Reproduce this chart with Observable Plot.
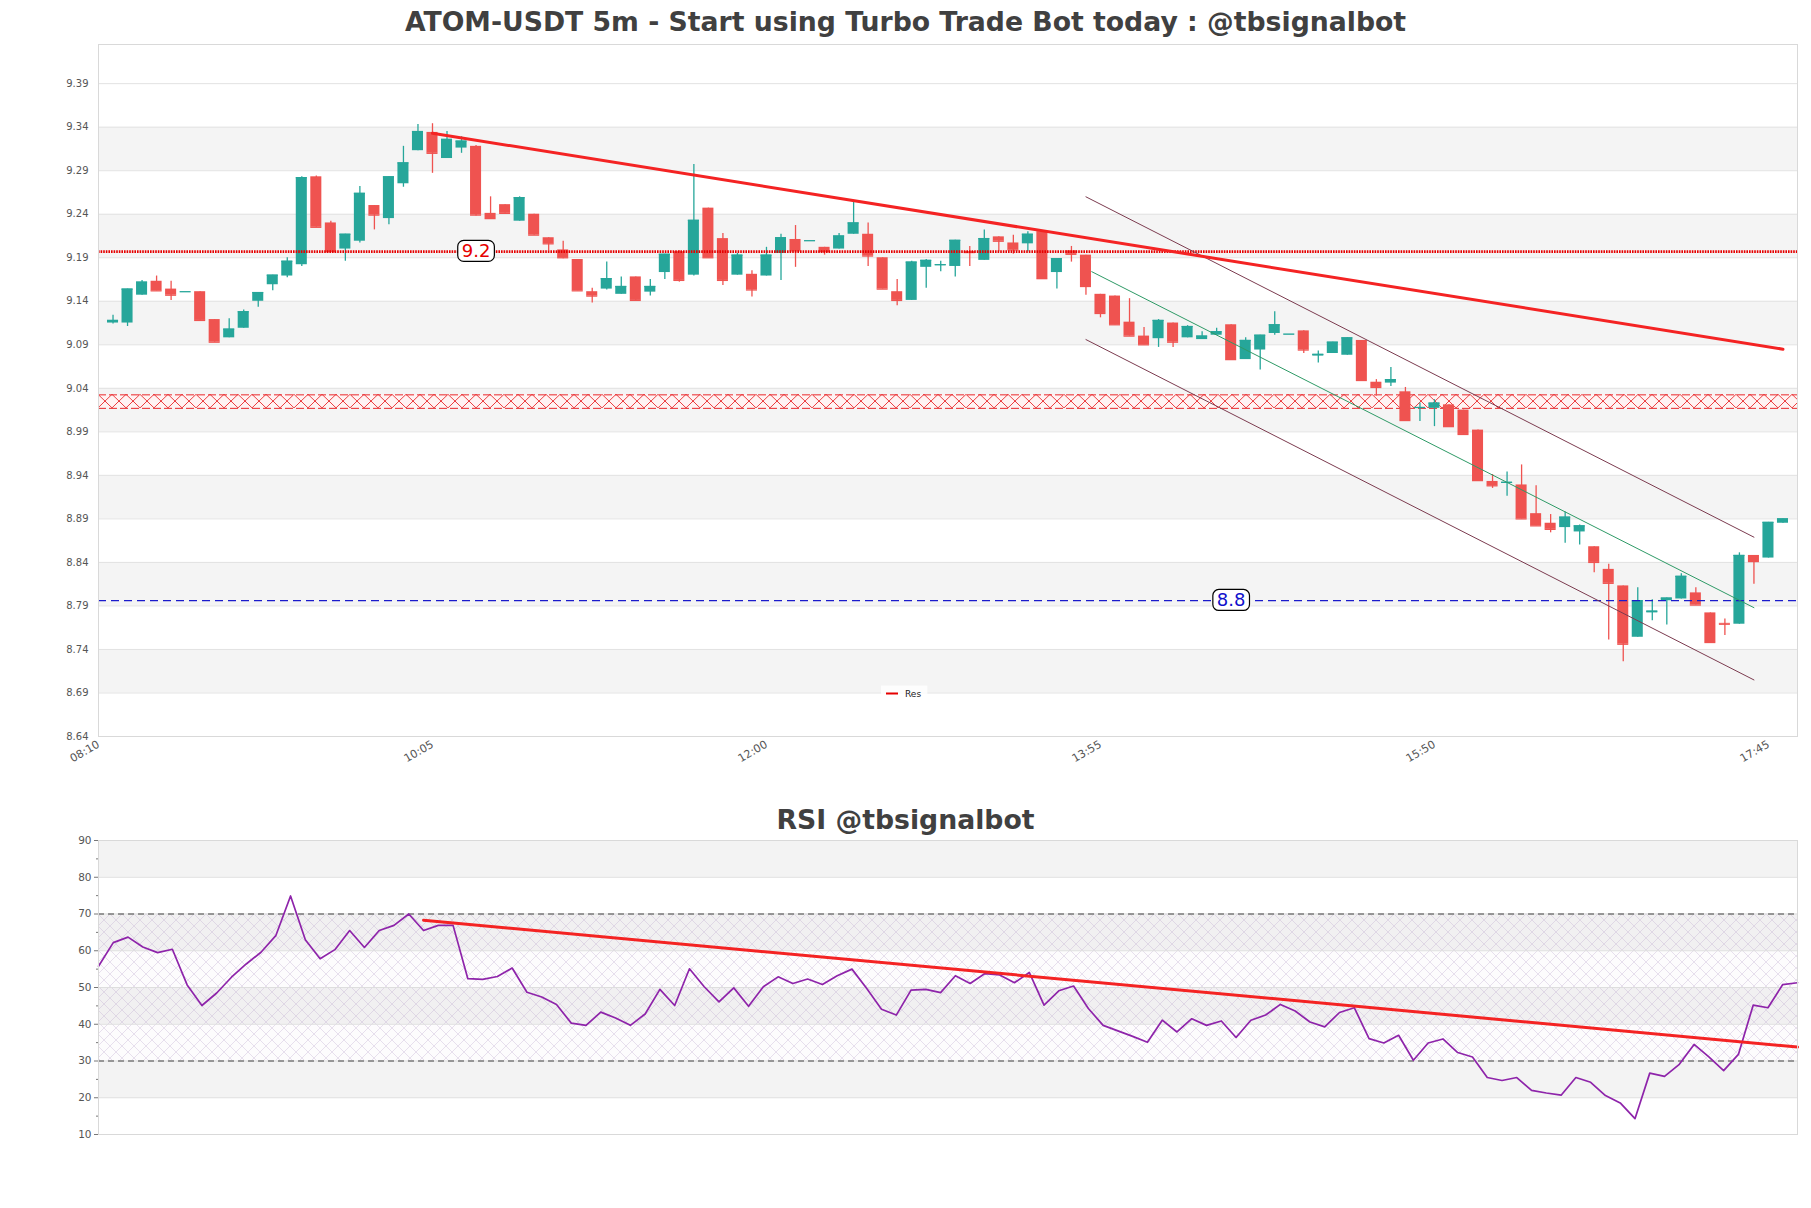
<!DOCTYPE html>
<html><head><meta charset="utf-8">
<script src="https://cdn.jsdelivr.net/npm/d3@7"></script>
<script src="https://cdn.jsdelivr.net/npm/@observablehq/plot@0.6"></script>
<style>
body{margin:0;background:#fff;font-family:"DejaVu Sans",sans-serif;width:1811px;height:1208px;overflow:hidden}
.title{text-align:center;font-weight:bold;color:#404040;font-size:26.7px;white-space:nowrap}
</style></head><body>
<div class="title" style="height:40px;line-height:44px">ATOM-USDT 5m - Start using Turbo Trade Bot today : @tbsignalbot</div>
<div id="c1" style="height:760px"></div>
<div class="title" style="height:30px;line-height:40px">RSI @tbsignalbot</div>
<div id="c2"></div>
<script>
// ---------- data ----------
const candleOpen  = [9.115,9.115,9.147,9.163,9.154,9.151,9.151,9.119,9.098,9.109,9.140,9.159,9.169,9.182,9.283,9.230,9.200,9.209,9.250,9.235,9.275,9.313,9.334,9.304,9.316,9.318,9.241,9.251,9.232,9.240,9.213,9.199,9.188,9.151,9.154,9.148,9.168,9.1505,9.173,9.197,9.170,9.247,9.212,9.170,9.171,9.169,9.195,9.211,9.2095,9.202,9.200,9.217,9.217,9.190,9.151,9.141,9.179,9.181,9.180,9.197,9.187,9.214,9.207,9.206,9.220,9.173,9.198,9.193,9.148,9.146,9.116,9.100,9.097,9.115,9.098,9.096,9.101,9.113,9.073,9.084,9.103,9.102,9.106,9.077,9.080,9.078,9.095,9.047,9.046,9.036,9.017,9.017,9.021,9.015,8.992,8.933,8.931,8.929,8.896,8.885,8.880,8.875,8.858,8.832,8.813,8.754,8.782,8.796,8.798,8.805,8.782,8.770,8.769,8.848,8.845,8.885];
const candleHigh  = [9.124,9.154,9.164,9.169,9.163,9.151,9.151,9.119,9.120,9.130,9.150,9.170,9.190,9.283,9.284,9.232,9.217,9.272,9.250,9.283,9.318,9.343,9.344,9.335,9.329,9.319,9.260,9.251,9.260,9.240,9.213,9.209,9.188,9.155,9.185,9.168,9.168,9.165,9.194,9.198,9.297,9.247,9.218,9.195,9.175,9.202,9.217,9.227,9.2095,9.202,9.218,9.255,9.230,9.190,9.165,9.186,9.188,9.186,9.210,9.203,9.222,9.214,9.216,9.220,9.220,9.189,9.203,9.193,9.148,9.146,9.143,9.110,9.119,9.115,9.112,9.105,9.109,9.113,9.098,9.101,9.128,9.102,9.106,9.083,9.093,9.098,9.095,9.050,9.064,9.041,9.023,9.027,9.021,9.015,8.992,8.941,8.944,8.952,8.928,8.895,8.898,8.883,8.858,8.838,8.813,8.811,8.797,8.799,8.827,8.811,8.782,8.775,8.851,8.848,8.886,8.890];
const candleLow   = [9.114,9.111,9.147,9.152,9.141,9.151,9.118,9.093,9.098,9.109,9.133,9.152,9.167,9.180,9.225,9.197,9.186,9.207,9.222,9.228,9.271,9.313,9.287,9.304,9.310,9.238,9.234,9.241,9.232,9.216,9.198,9.189,9.152,9.138,9.153,9.148,9.140,9.146,9.165,9.162,9.169,9.190,9.158,9.170,9.145,9.169,9.164,9.179,9.2095,9.193,9.200,9.217,9.180,9.154,9.135,9.141,9.155,9.174,9.168,9.180,9.187,9.197,9.194,9.197,9.166,9.154,9.185,9.147,9.121,9.113,9.100,9.090,9.087,9.087,9.098,9.096,9.101,9.072,9.073,9.061,9.101,9.102,9.080,9.069,9.080,9.078,9.049,9.031,9.042,9.003,9.002,8.996,8.996,8.987,8.934,8.925,8.916,8.890,8.882,8.874,8.862,8.860,8.828,8.751,8.726,8.754,8.773,8.768,8.798,8.791,8.748,8.756,8.769,8.815,8.845,8.885];
const candleClose = [9.118,9.154,9.162,9.152,9.147,9.151,9.118,9.093,9.108,9.128,9.150,9.170,9.186,9.282,9.225,9.197,9.217,9.264,9.239,9.283,9.299,9.335,9.310,9.326,9.324,9.239,9.235,9.241,9.259,9.216,9.206,9.190,9.152,9.146,9.166,9.157,9.141,9.157,9.194,9.164,9.233,9.190,9.164,9.193,9.153,9.193,9.213,9.198,9.2096,9.197,9.215,9.230,9.192,9.154,9.141,9.185,9.187,9.182,9.210,9.196,9.212,9.209,9.199,9.217,9.166,9.189,9.194,9.157,9.126,9.113,9.100,9.090,9.118,9.093,9.111,9.100,9.105,9.073,9.095,9.101,9.113,9.1022,9.084,9.079,9.093,9.098,9.049,9.041,9.050,9.003,9.018,9.023,8.996,8.987,8.934,8.928,8.932,8.890,8.882,8.878,8.892,8.882,8.840,8.816,8.746,8.796,8.784,8.799,8.824,8.791,8.748,8.769,8.848,8.841,8.886,8.890];

const priceTicks = [8.64,8.69,8.74,8.79,8.84,8.89,8.94,8.99,9.04,9.09,9.14,9.19,9.24,9.29,9.34,9.39];
const timeTickSteps = [0,23,46,69,92,115];
const timeTickLabels = ["08:10","10:05","12:00","13:55","15:50","17:45"];

const resistanceLevel = 9.197, resistanceLabel = "9.2", resistanceLabelStep = 26;
const supportLevel = 8.796, supportLabel = "8.8", supportLabelStep = 78;
const zoneLow = 9.017, zoneHigh = 9.0325;
const resTrendX = [23, 116], resTrendY = [9.333, 9.085];
const channelX = [68, 114];
const channelUpper = [9.260, 8.869];
const channelLower = [9.096, 8.705];
const channelMidX = [68.4, 114];
const channelMid = [9.174, 8.788];
const legendLabel = "Res";

const rsiValues = [55.8,62.2,63.7,61.0,59.5,60.4,50.7,45.1,48.5,52.8,56.4,59.6,64.1,74.9,63.0,57.8,60.3,65.5,60.9,65.5,66.9,70.0,65.5,66.9,66.9,52.4,52.2,53.0,55.3,48.7,47.4,45.4,40.3,39.7,43.3,41.7,39.7,42.8,49.5,45.1,55.1,
 50.2,46.1,49.9,44.9,50.2,52.9,51.1,52.3,50.8,53.2,55.0,49.7,44.1,42.5,49.3,49.5,48.6,53.2,51.1,53.8,53.4,51.3,54.1,45.2,49.1,50.4,44.3,39.7,38.2,36.7,35.1,41.1,37.9,41.5,39.7,40.9,36.4,41.1,42.5,45.4,43.6,40.6,39.3,43.2,44.5,36.1,34.9,37.0,30.2,34.9,36.0,32.3,31.1,25.5,24.7,25.5,22.0,21.3,20.7,25.5,24.2,20.6,18.6,14.3,26.7,25.8,29.1,34.5,31.1,27.4,31.8,45.2,44.5,50.8,51.3];
const rsiTicks = [10,20,30,40,50,60,70,80,90];
const rsiMinorTicks = [15,25,35,45,55,65,75,85];
const rsiUpper = 70, rsiLower = 30;
const rsiTrendX = [22, 115], rsiTrendY = [68.3, 33.8];

// ---------- derived tables ----------
const candles = candleOpen.map((o, i) => ({
  step: i + 1, open: o, high: candleHigh[i], low: candleLow[i], close: candleClose[i],
  up: candleClose[i] >= o
}));
const priceBands = [];
for (let i = 1; i + 1 < priceTicks.length; i += 2) priceBands.push({lo: priceTicks[i], hi: priceTicks[i + 1]});
const rsiBands = [];
for (let i = 1; i + 1 < rsiTicks.length; i += 2) rsiBands.push({lo: rsiTicks[i], hi: rsiTicks[i + 1]});
const rsiPts = rsiValues.map((v, i) => ({i, v}));

const GREEN = "#26a69a", RED = "#ef5350";
const HW = 0.38;

// ---------- price chart ----------
const p1 = Plot.plot({
  width: 1811, height: 760,
  marginLeft: 98, marginRight: 14, marginTop: 4, marginBottom: 64,
  style: {fontFamily: "DejaVu Sans, sans-serif", fontSize: "10px", color: "#555", background: "transparent"},
  x: {domain: [0, 117], axis: null, label: null},
  y: {domain: [8.64, 9.435], axis: null, label: null},
  marks: [
    Plot.rect(priceBands, {y1: "lo", y2: "hi", fill: "#f4f4f4"}),
    Plot.ruleY(priceTicks, {stroke: "#e2e2e2", strokeWidth: 1}),
    Plot.rect([{lo: zoneLow, hi: zoneHigh}], {y1: "lo", y2: "hi", fill: "#fff3f3"}),
    Plot.rect([{lo: zoneLow, hi: zoneHigh}], {y1: "lo", y2: "hi", fill: "url(#hatchRed)"}),
    Plot.ruleY([zoneLow, zoneHigh], {stroke: "#e8282b", strokeWidth: 1, strokeDasharray: "8,3"}),
    Plot.ruleX(candles, {x: "step", y1: "low", y2: "high", stroke: d => d.up ? GREEN : RED, strokeWidth: 1.3}),
    Plot.ruleY(candles, {x1: d => d.step - HW, x2: d => d.step + HW, y: "close", stroke: d => d.up ? GREEN : RED, strokeWidth: 1.3}),
    Plot.rect(candles, {x1: d => d.step - HW, x2: d => d.step + HW, y1: "open", y2: "close", fill: d => d.up ? GREEN : RED}),
    Plot.ruleY([resistanceLevel], {stroke: "#e60000", strokeWidth: 2.8, strokeDasharray: "1.6,1"}),
    Plot.ruleY([supportLevel], {stroke: "#1a1acc", strokeWidth: 1.3, strokeDasharray: "8,5"}),
    Plot.line(channelX, {x: channelX, y: channelUpper, stroke: "#7b3b4f", strokeWidth: 1}),
    Plot.line(channelX, {x: channelX, y: channelLower, stroke: "#7b3b4f", strokeWidth: 1}),
    Plot.line(channelMidX, {x: channelMidX, y: channelMid, stroke: "#2e9a66", strokeWidth: 1}),
    Plot.line(resTrendX, {x: resTrendX, y: resTrendY, stroke: "#f42323", strokeWidth: 3}),
    Plot.text([resistanceLabel], {x: [resistanceLabelStep], y: [resistanceLevel], text: d => d, fill: "#e60000", fontSize: 18, className: "lvl-label"}),
    Plot.text([supportLabel], {x: [supportLabelStep], y: [supportLevel], text: d => d, fill: "#1010cc", fontSize: 18, className: "lvl-label"}),
    Plot.frame({stroke: "#d9d9d9"}),
    Plot.axisY(priceTicks, {tickSize: 0, tickPadding: 10, fontSize: 10, fill: "#555", label: null, tickFormat: d => d.toFixed(2)}),
    Plot.axisX(timeTickSteps, {tickSize: 0, tickPadding: 7, tickRotate: -30, fontSize: 11, fill: "#555", label: null, tickFormat: d => timeTickLabels[timeTickSteps.indexOf(d)]}),
    Plot.text([legendLabel], {frameAnchor: "bottom", dx: -43, dy: -40, fontSize: 9, fill: "#222", textAnchor: "start", className: "legend-text"})
  ]
});
document.getElementById("c1").appendChild(p1);

// ---------- RSI chart ----------
const p2 = Plot.plot({
  width: 1811, height: 314,
  marginLeft: 98, marginRight: 14, marginTop: 10, marginBottom: 10,
  style: {fontFamily: "DejaVu Sans, sans-serif", fontSize: "10px", color: "#555", background: "transparent"},
  x: {domain: [0, rsiValues.length - 1], axis: null, label: null},
  y: {domain: [10, 90], axis: null, label: null},
  marks: [
    Plot.rect(rsiBands, {y1: "lo", y2: "hi", fill: "#f3f3f3"}),
    Plot.rect([{lo: rsiLower, hi: rsiUpper}], {y1: "lo", y2: "hi", fill: "#8a5fb0", fillOpacity: 0.02}),
    Plot.rect([{lo: rsiLower, hi: rsiUpper}], {y1: "lo", y2: "hi", fill: "url(#hatchPurple)"}),
    Plot.ruleY(rsiTicks, {stroke: "#dedede", strokeWidth: 1}),
    Plot.ruleY([rsiUpper, rsiLower], {stroke: "#444", strokeWidth: 1.2, strokeDasharray: "6,4"}),
    Plot.line(rsiPts, {x: "i", y: "v", stroke: "#8e24aa", strokeWidth: 1.7}),
    Plot.line(rsiTrendX, {x: rsiTrendX, y: rsiTrendY, stroke: "#f42323", strokeWidth: 3}),
    Plot.frame({stroke: "#d9d9d9"}),
    Plot.axisY(rsiTicks, {tickSize: 4, tickPadding: 3, fontSize: 10.5, fill: "#555", stroke: "#777", label: null}),
    Plot.axisY(rsiMinorTicks, {tickSize: 2, text: null, stroke: "#777", label: null})
  ]
});
document.getElementById("c2").appendChild(p2);

// ---------- patterns & decorations ----------
const ys = p1.scale("y");
const zTop = ys.apply(zoneHigh), zBot = ys.apply(zoneLow), zh = zBot - zTop;
const defs1 = d3.select(p1).insert("defs", ":first-child");
const pr = defs1.append("pattern").attr("id", "hatchRed").attr("patternUnits", "userSpaceOnUse")
  .attr("x", 98).attr("y", zTop).attr("width", 14).attr("height", zh);
pr.append("path").attr("d", `M0,0L14,${zh}M14,0L0,${zh}`).attr("stroke", "#e8282b").attr("stroke-width", 0.9).attr("fill", "none");

const defs2 = d3.select(p2).insert("defs", ":first-child");
const pp = defs2.append("pattern").attr("id", "hatchPurple").attr("patternUnits", "userSpaceOnUse")
  .attr("x", 98).attr("y", 0).attr("width", 12).attr("height", 12);
pp.append("path").attr("d", "M0,0L12,12M12,0L0,12").attr("stroke", "#b8a3cc").attr("stroke-width", 0.6).attr("stroke-opacity", 0.55).attr("fill", "none");

// rounded boxes behind level labels (same transform as the text)
d3.select(p1).selectAll("g.lvl-label text").each(function() {
  const b = this.getBBox();
  const tf = this.getAttribute("transform");
  d3.select(this.parentNode).insert("rect", () => this)
    .attr("transform", tf)
    .attr("x", b.x - 4).attr("y", b.y).attr("width", b.width + 8).attr("height", b.height)
    .attr("rx", 6).attr("fill", "#fff").attr("stroke", "#000").attr("stroke-width", 1.2);
});
// legend box and sample line
d3.select(p1).selectAll("g.legend-text text").each(function() {
  const b = this.getBBox();
  const tf = this.getAttribute("transform");
  d3.select(this.parentNode).insert("rect", () => this)
    .attr("transform", tf)
    .attr("x", b.x - 24).attr("y", b.y - 3).attr("width", b.width + 30).attr("height", b.height + 6)
    .attr("fill", "#fff").attr("fill-opacity", 0.8);
  d3.select(this.parentNode).append("line")
    .attr("transform", tf)
    .attr("x1", b.x - 19).attr("x2", b.x - 7).attr("y1", b.y + b.height / 2).attr("y2", b.y + b.height / 2)
    .attr("stroke", "#e60000").attr("stroke-width", 2);
});
</script>
</body></html>
